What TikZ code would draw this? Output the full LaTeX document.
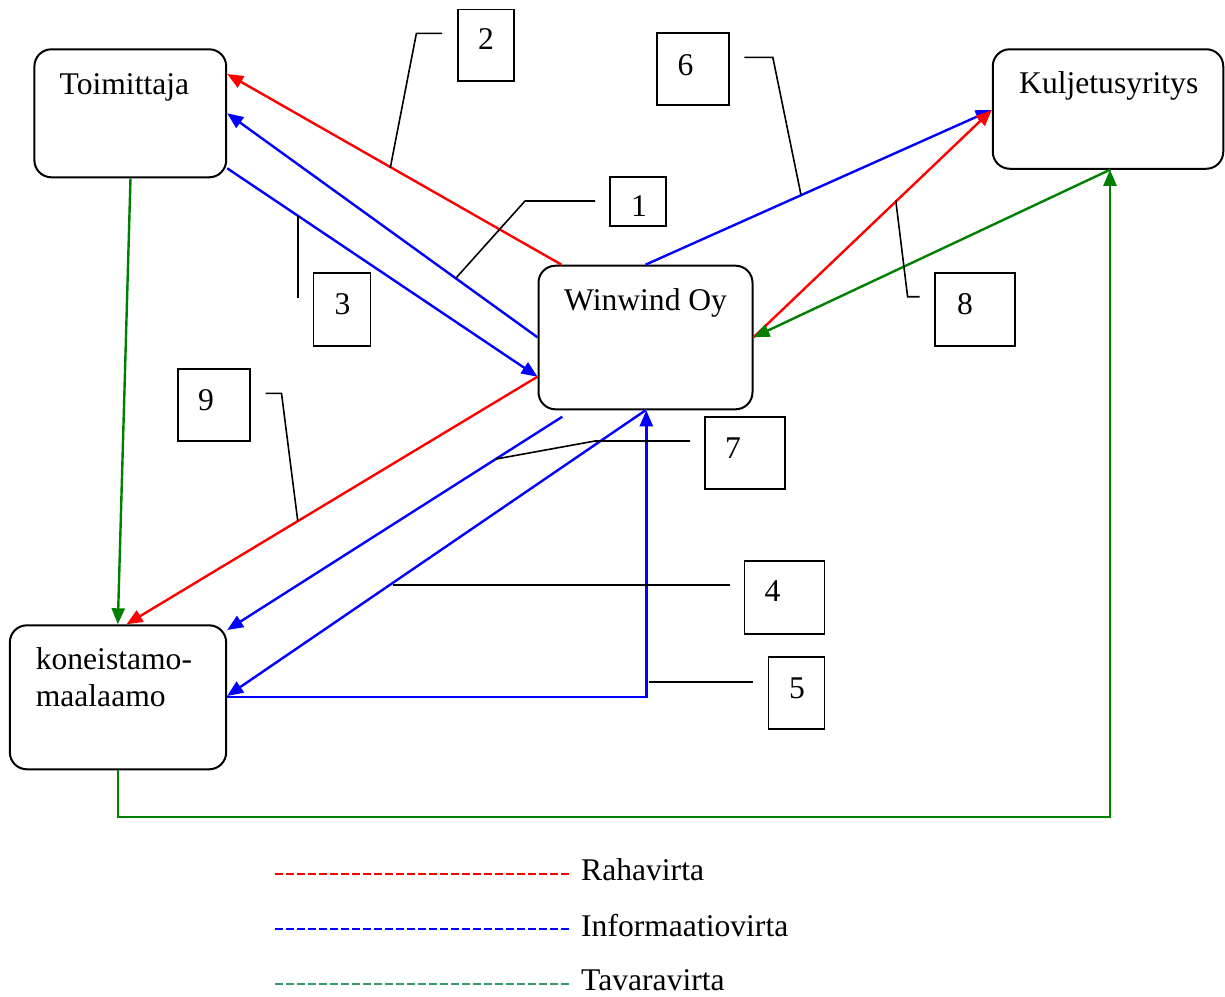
\documentclass[tikz,border=0pt]{standalone}
\usepackage{fontspec}
\setmainfont{Liberation Serif}
\usetikzlibrary{arrows.meta,calc}
\definecolor{ared}{RGB}{255,0,0}
\definecolor{ablue}{RGB}{0,0,255}
\definecolor{agreen}{RGB}{0,128,0}
\definecolor{lgreen}{RGB}{51,153,102}
\begin{document}
\begin{tikzpicture}[x=1pt,y=-1pt,
 box/.style={draw,line width=2pt,rounded corners=17pt,inner sep=0pt,anchor=center},
 numbox/.style={draw,line width=1.7pt,inner sep=0pt,anchor=center},
 txt/.style={inner sep=0pt,anchor=base west,font=\fontsize{31.6}{38}\selectfont},
 flow/.style={line width=2.4pt,-{Triangle[length=16pt,width=13pt]}},
 lead/.style={line width=1.6pt},
 leg/.style={line width=2pt,dash pattern=on 8pt off 3pt}]
\useasboundingbox (0,0) rectangle (1225,996);
% main boxes
\node[box,minimum width=191.8pt,minimum height=128pt] (toim) at (130.3,113.3) {};
\node[box,minimum width=214pt,minimum height=143.6pt] (ww) at (645.5,337.5) {};
\node[box,minimum width=230.5pt,minimum height=119.5pt] (kul) at (1108,109) {};
\node[box,minimum width=216.3pt,minimum height=144pt] (kon) at (118,697.3) {};
\node[txt] (ttoim) at (59.5,94) {Toimittaja};
\node[txt] (tkul) at (1019,93.5) {Kuljetusyritys};
\node[txt] (tww) at (564,310) {Winwind Oy};
\node[txt] (tkon1) at (35.6,669) {koneistamo-};
\node[txt] (tkon2) at (35.6,706.7) {maalaamo};
% number boxes
\node[numbox,minimum width=56pt,minimum height=71.7pt] (b2) at (486,45.2) {};
\node[numbox,minimum width=72pt,minimum height=72pt] (b6) at (693.3,69.3) {};
\node[numbox,minimum width=56pt,minimum height=48.4pt] (b1) at (638,201.5) {};
\node[numbox,minimum width=57pt,minimum height=72.4pt] (b3) at (342,309.5) {};
\node[numbox,minimum width=80pt,minimum height=72.4pt] (b8) at (975,309.5) {};
\node[numbox,minimum width=72pt,minimum height=72pt] (b9) at (214.3,405) {};
\node[numbox,minimum width=80pt,minimum height=72.6pt] (b7) at (744.7,453) {};
\node[numbox,minimum width=80pt,minimum height=73pt] (b4) at (784.6,597.5) {};
\node[numbox,minimum width=56pt,minimum height=72.6pt] (b5) at (796.5,693) {};
\node[txt] (n2) at (478,49.3) {2};
\node[txt] (n6) at (677.5,75) {6};
\node[txt] (n1) at (631,216) {1};
\node[txt] (n3) at (334.5,314) {3};
\node[txt] (n8) at (957,314) {8};
\node[txt] (n9) at (198,410) {9};
\node[txt] (n7) at (725,458.3) {7};
\node[txt] (n4) at (764.5,601.7) {4};
\node[txt] (n5) at (789,698.3) {5};
% flows
\draw[flow,ared] (ww.north -| 561.5,0) -- (toim.east |- 0,74);
\draw[flow,ablue] (ww.west |- 0,337.3) -- (toim.east |- 0,113.3);
\draw[flow,ablue] (toim.east |- 0,168.3) -- (ww.west |- 0,376.7);
\draw[flow,ared] (ww.west |- 0,376.7) -- (kon.north -| 126.5,0);
\coordinate (bstart) at (562.3,416.7);
\draw[flow,ablue] (bstart) -- (kon.east |- 0,630);
\draw[flow,ablue] (ww.south -| 645.5,0) -- (kon.east |- 0,696);
\draw[flow,ablue] (kon.east |- 0,696.7) -| (ww.south -| 646.3,0);
\draw[flow,agreen] (toim.south -| 130.5,0) -- (kon.north -| 117.8,0);
\draw[flow,ablue] (ww.north -| 645.5,0) -- (kul.west |- 0,110);
\draw[flow,ared] (ww.east |- 0,337.3) -- (kul.west |- 0,110);
\draw[flow,agreen] (kul.south -| 1110,0) -- (ww.east |- 0,337.3);
\draw[flow,agreen] (kon.south -| 117.8,0) -- (117.8,816.7) -| (kul.south -| 1110,0);
% leaders
\coordinate (l2a) at (442,33.3); \coordinate (l2b) at (390.3,167.7);
\draw[lead] (l2a) -- (416.4,33.3) -- (l2b);
\coordinate (l1a) at (595,201); \coordinate (l1b) at (456,278);
\draw[lead] (l1a) -- (525,201) -- (l1b);
\coordinate (l3a) at (297.7,215.5); \coordinate (l3b) at (297.7,297.7);
\draw[lead] (l3a) -- (l3b);
\coordinate (l6a) at (744.3,57.3); \coordinate (l6b) at (800.9,194.5);
\draw[lead] (l6a) -- (772.8,57.3) -- (l6b);
\coordinate (l8a) at (895.8,200.6); \coordinate (l8b) at (919.5,296.7);
\draw[lead] (l8a) -- (907.6,296.7) -- (l8b);
\coordinate (l9a) at (265.7,393.3); \coordinate (l9b) at (297.7,520.5);
\draw[lead] (l9a) -- (281.5,393.3) -- (l9b);
\coordinate (l7a) at (690.2,441); \coordinate (l7b) at (496,459);
\draw[lead] (l7a) -- (595,441) -- (l7b);
\coordinate (l4a) at (393.4,585); \coordinate (l4b) at (729.7,585);
\draw[lead] (l4a) -- (l4b);
\coordinate (l5a) at (648.6,681.7); \coordinate (l5b) at (753.4,681.7);
\draw[lead] (l5a) -- (l5b);
% legend
\node[txt] (lg1) at (581,880.7) {Rahavirta};
\node[txt] (lg2) at (581,936.7) {Informaatiovirta};
\node[txt] (lg3) at (581,990.5) {Tavaravirta};
\draw[leg,ared] (275,873.5) -- (570,873.5);
\draw[leg,ablue] (275,928.5) -- (570,928.5);
\draw[leg,lgreen] (275,983.5) -- (570,983.5);
\end{tikzpicture}
\end{document}
